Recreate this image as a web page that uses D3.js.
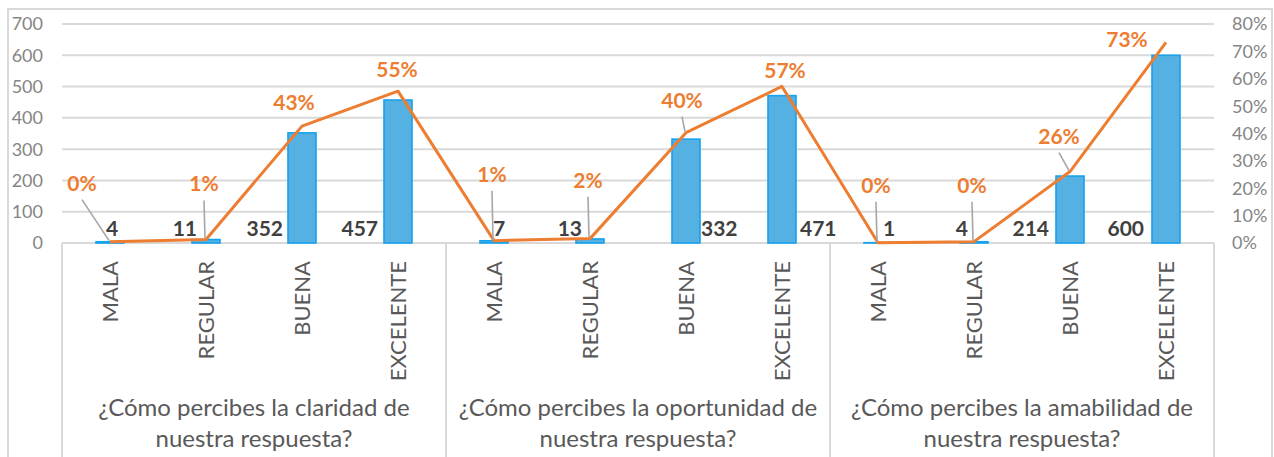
<!DOCTYPE html>
<html>
<head>
<meta charset="utf-8">
<script src="https://cdn.jsdelivr.net/npm/d3@7"></script>
<style>
  html, body { margin: 0; padding: 0; background: #fff; }
  svg { display: block; font-family: Lato, "Open Sans", sans-serif; }
</style>
</head>
<body>
<svg id="chart" width="1274" height="457"></svg>
<script>
// ---- data ----
const groupLines = [
  ["¿Cómo percibes la claridad de", "nuestra respuesta?"],
  ["¿Cómo percibes la oportunidad de", "nuestra respuesta?"],
  ["¿Cómo percibes la amabilidad de", "nuestra respuesta?"]
];
const categories = ["MALA", "REGULAR", "BUENA", "EXCELENTE"];
const counts = [
  [4, 11, 352, 457],
  [7, 13, 332, 471],
  [1, 4, 214, 600]
];
const shares = [
  [0.0049, 0.013, 0.427, 0.5546],
  [0.0085, 0.016, 0.403, 0.572],
  [0.0012, 0.0049, 0.261, 0.733]
];
const leftTicks = [0, 100, 200, 300, 400, 500, 600, 700];
const rightTicks = [0, 0.1, 0.2, 0.3, 0.4, 0.5, 0.6, 0.7, 0.8];

// ---- layout (label placement, not data) ----
const barLabelPlace = [
  ["start", -4], ["end", -9], ["end", -19], ["end", -20],
  ["start", -1], ["end", -8], ["start", 15], ["start", 18],
  ["start", 5], ["end", -6], ["end", -21], ["end", -22]
];
const pctLabelOffset = [
  [-28, -51], [-2, -48], [-8, -16], [-1, -14],
  [-2, -59], [-2, -51], [-4, -25], [3, -8],
  [-2, -50], [-2, -49], [-11, -28], [-39, 5]
];

// ---- flatten ----
const rows = [];
groupLines.forEach((g, gi) => {
  categories.forEach((c, ci) => {
    rows.push({ key: gi + "-" + ci, gi, ci, cat: c, count: counts[gi][ci], share: shares[gi][ci] });
  });
});

const svg = d3.select("#chart");
const plotL = 62, plotR = 1214, plotT = 24, plotB = 243;

const x = d3.scaleBand().domain(rows.map(d => d.key)).range([plotL, plotR]).padding(0);
const y = d3.scaleLinear().domain([0, 700]).range([plotB, plotT]);
const y2 = d3.scaleLinear().domain([0, 0.8]).range([plotB, plotT]);
const cx = d => x(d.key) + x.bandwidth() / 2;

// outer frame
svg.append("rect").attr("x", 8).attr("y", 9).attr("width", 1264).attr("height", 470)
  .attr("fill", "none").attr("stroke", "#D9D9D9").attr("stroke-width", 2);

// gridlines
svg.append("g").selectAll("line").data(leftTicks.filter(t => t > 0)).join("line")
  .attr("x1", plotL).attr("x2", plotR)
  .attr("y1", d => y(d)).attr("y2", d => y(d))
  .attr("stroke", "#D9D9D9").attr("stroke-width", 2);

// left axis labels
svg.append("g").selectAll("text").data(leftTicks).join("text")
  .attr("x", 43).attr("y", d => y(d)).attr("dy", "0.36em")
  .attr("text-anchor", "end").attr("fill", "#858585")
  .attr("font-size", 18).text(d => d);

// right axis labels
const pf = d3.format(".0%");
svg.append("g").selectAll("text").data(rightTicks).join("text")
  .attr("x", 1232).attr("y", d => y2(d)).attr("dy", "0.36em")
  .attr("text-anchor", "start").attr("fill", "#858585")
  .attr("font-size", 18).text(d => pf(d));

// category axis box
svg.append("line").attr("x1", plotL).attr("x2", plotR).attr("y1", plotB).attr("y2", plotB)
  .attr("stroke", "#D9D9D9").attr("stroke-width", 2);
const sepX = [0, 4, 8, 12].map(i => i < 12 ? x(rows[i].key) : plotR);
svg.append("g").selectAll("line").data(sepX).join("line")
  .attr("x1", d => d).attr("x2", d => d).attr("y1", plotB).attr("y2", 460)
  .attr("stroke", "#D9D9D9").attr("stroke-width", 2);

// bars
const bw = 28;
svg.append("g").selectAll("rect").data(rows).join("rect")
  .attr("x", d => cx(d) - bw / 2).attr("width", bw)
  .attr("y", d => y(d.count)).attr("height", d => Math.max(0, plotB - y(d.count)))
  .attr("fill", "#56B1E3").attr("stroke", "#16A2EC").attr("stroke-width", 1.6);

// bar labels
svg.append("g").selectAll("text").data(rows).join("text")
  .attr("x", (d, i) => cx(d) + barLabelPlace[i][1]).attr("y", 236)
  .attr("text-anchor", (d, i) => barLabelPlace[i][0])
  .attr("fill", "#404040").attr("font-weight", "bold").attr("font-size", 21)
  .text(d => d.count);

// line
const line = d3.line().x(d => cx(d)).y(d => y2(d.share));
svg.append("path").datum(rows).attr("d", line)
  .attr("fill", "none").attr("stroke", "#ED7D31").attr("stroke-width", 3)
  .attr("stroke-linejoin", "round");

// leader lines
svg.append("g").selectAll("line").data(rows.filter((d, i) => Math.abs(pctLabelOffset[i][1]) > 20)).join("line")
  .attr("x1", d => cx(d) + pctLabelOffset[rows.indexOf(d)][0])
  .attr("y1", d => y2(d.share) + pctLabelOffset[rows.indexOf(d)][1] + 9)
  .attr("x2", d => cx(d) - 1).attr("y2", d => y2(d.share) - 1)
  .attr("stroke", "#A6A6A6").attr("stroke-width", 1.6);

// percent labels
svg.append("g").selectAll("text").data(rows).join("text")
  .attr("x", (d, i) => cx(d) + pctLabelOffset[i][0])
  .attr("y", (d, i) => y2(d.share) + pctLabelOffset[i][1])
  .attr("text-anchor", "middle")
  .attr("fill", "#ED7D31").attr("font-weight", "bold").attr("font-size", 21)
  .text(d => pf(d.share));

// category labels (rotated)
svg.append("g").selectAll("text").data(rows).join("text")
  .attr("transform", d => `translate(${cx(d)},261) rotate(-90)`)
  .attr("dy", "0.36em").attr("text-anchor", "end")
  .attr("fill", "#595959").attr("font-size", 22)
  .text(d => d.cat);

// group labels
groupLines.forEach((lines, gi) => {
  const gx = (sepX[gi] + sepX[gi + 1]) / 2;
  const t = svg.append("text").attr("text-anchor", "middle")
    .attr("fill", "#595959").attr("font-size", 24);
  lines.forEach((ln, li) => {
    t.append("tspan").attr("x", gx).attr("y", 416 + li * 31).text(ln);
  });
});
</script>
</body>
</html>
